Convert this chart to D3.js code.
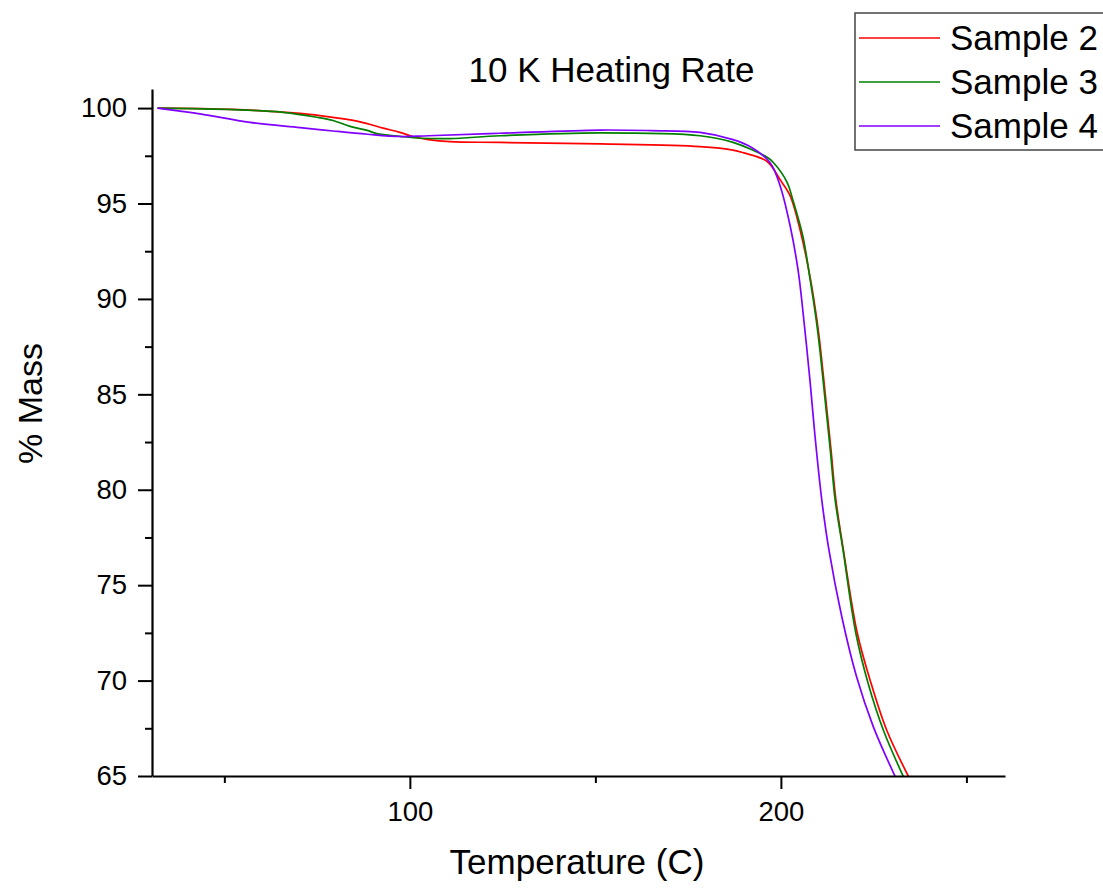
<!DOCTYPE html>
<html>
<head>
<meta charset="utf-8">
<script src="https://cdn.jsdelivr.net/npm/d3@7"></script>
<style>
  html, body { margin: 0; padding: 0; background: #fff; }
  svg { display: block; }
  text { font-family: Arial, "Liberation Sans", sans-serif; fill: #000; }
</style>
</head>
<body>
<svg id="chart" width="1103" height="888"></svg>
<script>
// TGA curves at 10 K/min: temperature (C) vs % mass remaining
const sample2 = [
  [32, 100], [52.3, 99.93], [70.4, 99.72], [79.3, 99.51], [86.6, 99.28], [92.8, 98.95],
  [97.3, 98.73], [101, 98.5], [105, 98.35], [110.8, 98.24], [124.3, 98.2], [151.3, 98.12],
  [178.2, 97.98], [187.1, 97.8], [190, 97.65], [196.3, 97.2], [199.8, 96.24], [202.5, 95.4],
  [205.2, 93.6], [208, 91.0], [209.7, 88.9], [210.7, 87.35], [212.1, 84.73], [213.5, 82.1],
  [214.8, 79.5], [216.8, 76.9], [220.6, 72.48], [224.3, 69.86], [228.5, 67.41], [234.4, 64.97]
];
const sample3 = [
  [32, 100], [52.3, 99.92], [65.8, 99.78], [75.0, 99.52], [79.3, 99.35], [83.9, 99.04],
  [88.5, 98.83], [91.1, 98.66], [97.3, 98.52], [103, 98.42], [110.8, 98.4], [124.3, 98.55],
  [151.3, 98.7], [178.2, 98.55], [187.1, 98.2], [196.3, 97.42], [197.9, 97.16], [201.7, 96.1],
  [203.2, 95.2], [205.9, 93.3], [207.9, 91.0], [209.5, 88.93], [210.5, 87.35], [211.9, 84.73],
  [213.3, 82.1], [214.6, 79.5], [216.7, 76.9], [220.2, 72.48], [223.5, 69.86], [227.6, 67.41],
  [233.0, 64.97]
];
const sample4 = [
  [32, 100], [43.4, 99.7], [56.9, 99.25], [70.4, 98.98], [79.3, 98.8], [88.5, 98.63],
  [97.3, 98.51], [105, 98.55], [124.3, 98.68], [151.3, 98.85], [165, 98.82], [178.2, 98.73],
  [187.1, 98.35], [192, 97.95], [197.1, 97.14], [199.8, 95.92], [202.5, 93.82], [204.6, 91.55],
  [205.6, 89.97], [207.9, 85.6], [209.1, 83.0], [211.0, 79.5], [212.9, 76.9], [216.4, 73.36],
  [220.4, 70.2], [224.9, 67.59], [230.8, 64.97]
];

const seriesNames = ["Sample 2", "Sample 3", "Sample 4"];
const seriesData = [sample2, sample3, sample4];
const seriesColors = ["#ff0000", "#008000", "#8000ff"];

const xMajorTicks = [100, 200];
const xMinorTicks = [50, 150, 250];
const yMajorTicks = [65, 70, 75, 80, 85, 90, 95, 100];
const yMinorTicks = [67.5, 72.5, 77.5, 82.5, 87.5, 92.5, 97.5];

const titleText = "10 K Heating Rate";
const xTitle = "Temperature (C)";
const yTitle = "% Mass";

const svg = d3.select("#chart");
const plot = { left: 152, right: 1005, top: 89, bottom: 776 };

const x = d3.scaleLinear().domain([30.5, 260.4]).range([plot.left, plot.right]);
const y = d3.scaleLinear().domain([65, 101]).range([plot.bottom, plot.top]);

svg.append("rect").attr("width", 1103).attr("height", 888).attr("fill", "#fff");

// clip curves to the plotting area
svg.append("clipPath").attr("id", "plotClip")
  .append("rect")
  .attr("x", plot.left).attr("y", plot.top)
  .attr("width", plot.right - plot.left).attr("height", plot.bottom - plot.top);

const line = d3.line()
  .x(d => x(d[0]))
  .y(d => y(d[1]))
  .curve(d3.curveCatmullRom.alpha(0.5));

const curves = svg.append("g").attr("clip-path", "url(#plotClip)");
seriesData.forEach((data, i) => {
  curves.append("path")
    .datum(data)
    .attr("fill", "none")
    .attr("stroke", seriesColors[i])
    .attr("stroke-width", 1.7)
    .attr("stroke-linejoin", "round")
    .attr("d", line);
});

// axes
function styleAxis(g) {
  g.select(".domain").attr("stroke", "#000").attr("stroke-width", 2.2);
  g.selectAll(".tick line").attr("stroke", "#000").attr("stroke-width", 2);
  g.selectAll(".tick text").style("font-size", "27.5px").attr("fill", "#000");
}

svg.append("g")
  .attr("transform", `translate(0,${plot.bottom})`)
  .call(d3.axisBottom(x).tickValues(xMajorTicks).tickSize(13).tickPadding(12).tickSizeOuter(0))
  .call(styleAxis);

svg.append("g")
  .attr("transform", `translate(0,${plot.bottom})`)
  .call(d3.axisBottom(x).tickValues(xMinorTicks).tickSize(7).tickFormat("").tickSizeOuter(0))
  .call(styleAxis)
  .select(".domain").remove();

svg.append("g")
  .attr("transform", `translate(${plot.left},0)`)
  .call(d3.axisLeft(y).tickValues(yMajorTicks).tickSize(14).tickPadding(11).tickSizeOuter(0))
  .call(styleAxis);

svg.append("g")
  .attr("transform", `translate(${plot.left},0)`)
  .call(d3.axisLeft(y).tickValues(yMinorTicks).tickSize(7).tickFormat("").tickSizeOuter(0))
  .call(styleAxis)
  .select(".domain").remove();

// titles
svg.append("text")
  .attr("x", 611.5).attr("y", 82)
  .attr("text-anchor", "middle")
  .style("font-size", "35px")
  .text(titleText);

svg.append("text")
  .attr("x", 577).attr("y", 874)
  .attr("text-anchor", "middle")
  .style("font-size", "35px")
  .text(xTitle);

svg.append("text")
  .attr("transform", "translate(42,403.5) rotate(-90)")
  .attr("text-anchor", "middle")
  .style("font-size", "34px")
  .text(yTitle);

// legend
const legend = svg.append("g").attr("transform", "translate(855,13)");
legend.append("rect")
  .attr("x", 0).attr("y", 0)
  .attr("width", 270).attr("height", 137)
  .attr("fill", "#fff")
  .attr("stroke", "#444")
  .attr("stroke-width", 1.5);

seriesNames.forEach((name, i) => {
  const row = legend.append("g").attr("transform", `translate(0,${25 + i * 44})`);
  row.append("line")
    .attr("x1", 4).attr("x2", 85)
    .attr("y1", 0).attr("y2", 0)
    .attr("stroke", seriesColors[i])
    .attr("stroke-width", 1.7);
  row.append("text")
    .attr("x", 95).attr("y", 12)
    .style("font-size", "35px")
    .text(name);
});
</script>
</body>
</html>
